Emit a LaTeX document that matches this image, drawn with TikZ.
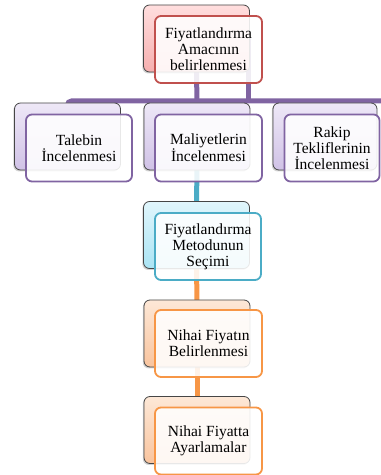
\documentclass[tikz,border=0pt]{standalone}
\usepackage{fontspec}
\setmainfont{Liberation Serif}
\usetikzlibrary{shadows}
\definecolor{redA}{RGB}{192,80,77}
\definecolor{purA}{RGB}{128,100,162}
\definecolor{tealA}{RGB}{75,172,198}
\definecolor{orgA}{RGB}{247,150,70}
\definecolor{edgeG}{RGB}{70,70,70}
\tikzset{
  backbox/.style={draw=edgeG, line width=0.8pt, rounded corners=6pt,
    minimum width=106pt, minimum height=67pt, inner sep=0pt,
    drop shadow={shadow xshift=-1.2pt, shadow yshift=-1.5pt, opacity=0.35}},
  frontbox/.style={draw=#1, line width=1.8pt, rounded corners=6pt,
    fill=white, fill opacity=0.88, text opacity=1,
    minimum width=106pt, minimum height=67pt, inner sep=2pt,
    align=center, font=\fontsize{15.5}{16}\selectfont},
  bred/.style={backbox, top color={rgb,255:red,255;green,222;blue,222}, bottom color={rgb,255:red,246;green,175;blue,175}},
  bpur/.style={backbox, top color={rgb,255:red,238;green,232;blue,247}, bottom color={rgb,255:red,208;green,194;blue,230}},
  btea/.style={backbox, top color={rgb,255:red,225;green,246;blue,252}, bottom color={rgb,255:red,170;green,228;blue,244}},
  borg/.style={backbox, top color={rgb,255:red,253;green,232;blue,215}, bottom color={rgb,255:red,249;green,196;blue,158}},
  link/.style={line width=5pt, draw=#1}
}
\begin{document}
\begin{tikzpicture}[x=1pt,y=1pt]
\useasboundingbox (0,0) rectangle (381,475);

% back boxes positions (connectors are drawn first, boxes on top)
\path (196.5,436.5) coordinate (pt0)
      (67.5,338.5) coordinate (pl0)
      (197,338.5) coordinate (pm0)
      (325,338.5) coordinate (pr0)
      (196.5,240) coordinate (pc0)
      (197,141.5) coordinate (pn0)
      (197,45) coordinate (pa0);
\coordinate (barR) at (381,374);

% connectors
\draw[link=purA, rounded corners=4pt] (pl0) |- (barR);
\draw[link=purA] (pt0) -- (pm0);
\draw[link=purA] ([xshift=52pt]pt0) -- ([xshift=52pt]pt0 |- barR);
\draw[link=tealA] ([yshift=-33.5pt]pm0) -- ([yshift=33.5pt]pc0);
\draw[link=orgA] ([yshift=-33.5pt]pc0) -- ([yshift=33.5pt]pn0);
\draw[link=orgA] ([yshift=-33.5pt]pn0) -- ([yshift=33.5pt]pa0);

% back boxes
\node[bred] (tb) at (pt0) {};
\node[bpur] (lb) at (pl0) {};
\node[bpur] (mb) at (pm0) {};
\node[bpur, minimum width=104pt] (rb) at (pr0) {};
\node[btea] (cb) at (pc0) {};
\node[borg] (nb) at (pn0) {};
\node[borg] (ab) at (pa0) {};

% front boxes with text
\node[frontbox=redA, minimum width=107pt] (tf) at (208.5,425.5) {Fiyatlandırma\\Amacının\\belirlenmesi};
\node[frontbox=purA] (lf) at (79,327) {Talebin\\İncelenmesi};
\node[frontbox=purA, minimum width=107pt] (mf) at (208.5,327) {Maliyetlerin\\İncelenmesi};
\node[frontbox=purA, minimum width=95pt] (rf) at (332,327) {Rakip\\Tekliflerinin\\İncelenmesi};
\node[frontbox=tealA] (cf) at (208,228.5) {Fiyatlandırma\\Metodunun\\Seçimi};
\node[frontbox=orgA, minimum width=107pt] (nf) at (208.5,131.5) {Nihai Fiyatın\\Belirlenmesi};
\node[frontbox=orgA, minimum width=107pt] (af) at (208.5,34) {Nihai Fiyatta\\Ayarlamalar};
\end{tikzpicture}
\end{document}
